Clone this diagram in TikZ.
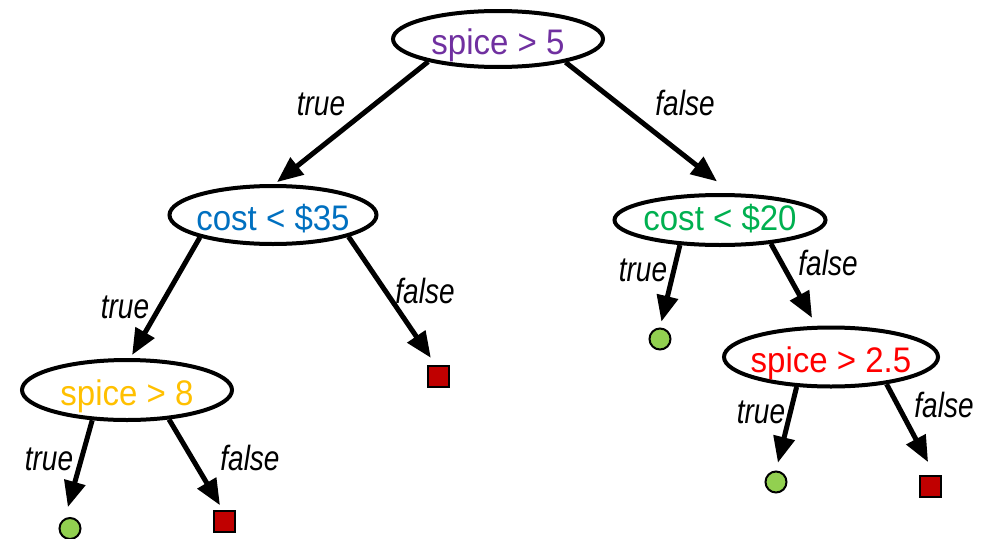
\documentclass[tikz,border=0pt]{standalone}
\usepackage{fontspec}
\setmainfont{Liberation Sans}
\newfontfamily\testfont{Liberation Sans}[FakeStretch=0.93]
\newfontfamily\branchfont{Liberation Sans}[FakeStretch=0.8]
\usetikzlibrary{shapes.geometric,arrows.meta}

\definecolor{testpurple}{RGB}{112,48,160}
\definecolor{testblue}{RGB}{0,112,192}
\definecolor{testgreen}{RGB}{0,176,80}
\definecolor{testgold}{RGB}{255,192,0}
\definecolor{testred}{RGB}{255,0,0}
\definecolor{leafgreen}{RGB}{146,208,80}
\definecolor{leafred}{RGB}{192,0,0}

\begin{document}
\begin{tikzpicture}[x=1pt,y=-1pt,
  test/.style={ellipse, draw=black, line width=4pt, fill=white, inner sep=0pt,
    text height=30pt, text depth=0pt,
    font=\testfont\fontsize{35.5}{42}\selectfont},
  yesleaf/.style={circle, draw=black, line width=2pt, fill=leafgreen,
    minimum size=21pt, inner sep=0pt},
  noleaf/.style={rectangle, draw=black, line width=2pt, fill=leafred,
    minimum size=21pt, inner sep=0pt},
  conn/.style={line width=5pt, -{Triangle[length=26pt,width=21pt]}},
  lbl/.style={font=\branchfont\itshape\fontsize{35}{40}\selectfont, inner sep=0pt}]

\useasboundingbox (0,0) rectangle (984,538);

% decision nodes
\node[test, minimum width=210pt, minimum height=56pt, text=testpurple]
  (root) at (498,39) {\makebox[0pt]{spice > 5}};
\node[test, minimum width=207pt, minimum height=58pt, text=testblue]
  (costA) at (273,215) {\makebox[0pt]{cost < \$35}};
\node[test, minimum width=211pt, minimum height=50pt, text=testgreen,
      text height=21pt]
  (costB) at (720,220) {\makebox[0pt]{cost < \$20}};
\node[test, minimum width=210pt, minimum height=60pt, text=testgold]
  (spiceA) at (127,390) {\makebox[0pt]{spice > 8}};
\node[test, minimum width=214pt, minimum height=59pt, text=testred]
  (spiceB) at (831,357) {\makebox[0pt]{spice > 2.5}};

% leaves
\node[yesleaf] (leafA) at (70,528.5) {};
\node[noleaf]  (leafB) at (224,521.5) {};
\node[noleaf]  (leafC) at (438,376) {};
\node[yesleaf] (leafD) at (660,339) {};
\node[yesleaf] (leafE) at (776,482) {};
\node[noleaf]  (leafF) at (930,486) {};

% branches
\draw[conn, shorten >=3pt]   (root.198)   -- (costA.87);
\draw[conn, shorten >=19pt]  (root.341)   -- (costB.66);
\draw[conn, shorten >=3.5pt] (costA.197)  -- (spiceA.84);
\draw[conn, shorten >=8pt]   (costA.344)  -- (leafC.103);
\draw[conn, shorten >=6pt]   (costB.212)  -- (leafD.north);
\draw[conn, shorten >=9pt]   (costB.335.6) -- (spiceB.115);
\draw[conn, shorten >=11.5pt] (spiceA.221.7) -- (leafA.117);
\draw[conn, shorten >=5.5pt] (spiceA.325.7) -- (leafB.96);
\draw[conn, shorten >=8pt]   (spiceB.221.3) -- (leafE.north);
\draw[conn, shorten >=14pt]  (spiceB.334.3) -- (leafF.68);

% branch labels
\node[lbl] (l1)  at (321,104) {true};
\node[lbl] (l2)  at (685,103) {false};
\node[lbl] (l3)  at (125,307) {true};
\node[lbl] (l4)  at (425,291) {false};
\node[lbl] (l5)  at (643,270) {true};
\node[lbl] (l6)  at (828,263) {false};
\node[lbl] (l7)  at (49,459)  {true};
\node[lbl] (l8)  at (250,458) {false};
\node[lbl] (l9)  at (761,412) {true};
\node[lbl] (l10) at (944,405) {false};
\end{tikzpicture}
\end{document}
